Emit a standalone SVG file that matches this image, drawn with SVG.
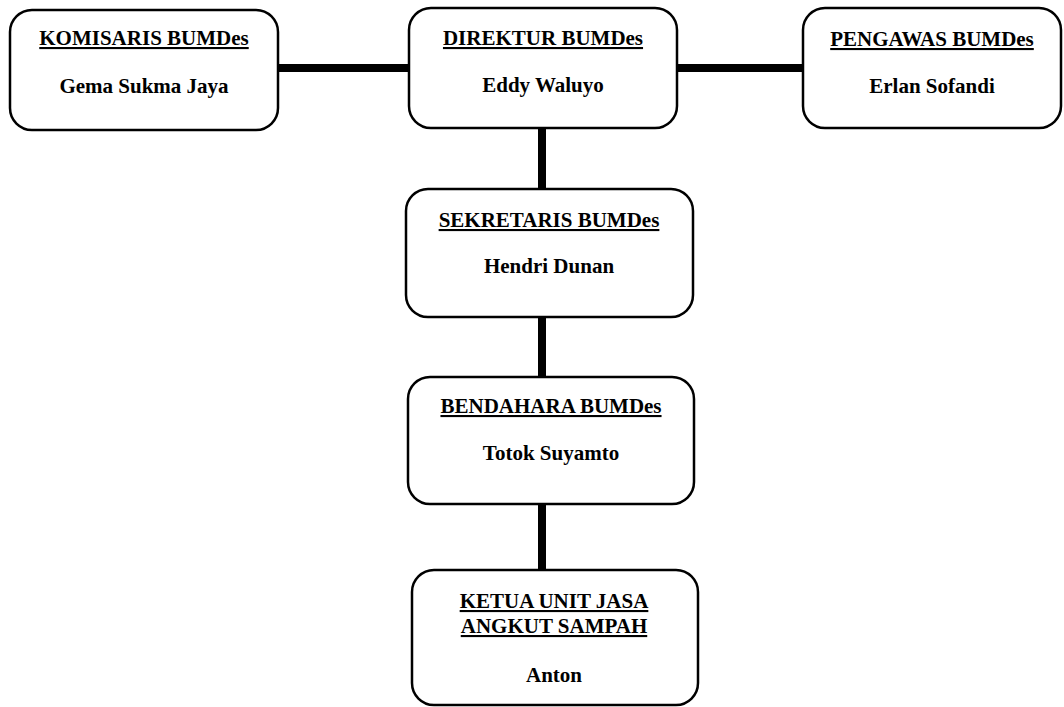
<svg xmlns="http://www.w3.org/2000/svg" width="1064" height="707" viewBox="0 0 1064 707">
<style>
.box{fill:#fff;stroke:#000;stroke-width:2.5}
.t{font-family:"Liberation Serif","Times New Roman",serif;font-weight:bold;font-size:21px;text-anchor:middle;fill:#000}
.u{text-decoration:underline}
.c{stroke:#000;stroke-width:8;fill:none}
</style>
<rect width="1064" height="707" fill="#fff"/>
<g id="connectors">
<line class="c" x1="278" y1="68" x2="410" y2="68"/>
<line class="c" x1="677" y1="68" x2="804" y2="68"/>
<line class="c" x1="542" y1="128" x2="542" y2="190"/>
<line class="c" x1="542" y1="317" x2="542" y2="378"/>
<line class="c" x1="542" y1="504" x2="542" y2="571"/>
</g>
<g id="komisaris">
<rect class="box" x="10" y="10" width="268" height="120" rx="22"/>
<text class="t u" x="144" y="45">KOMISARIS BUMDes</text>
<text class="t" x="144" y="93">Gema Sukma Jaya</text>
</g>
<g id="direktur">
<rect class="box" x="409" y="8" width="268" height="120" rx="22"/>
<text class="t u" x="543" y="45">DIREKTUR BUMDes</text>
<text class="t" x="543" y="92">Eddy Waluyo</text>
</g>
<g id="pengawas">
<rect class="box" x="803" y="8" width="258" height="120" rx="22"/>
<text class="t u" x="932" y="46">PENGAWAS BUMDes</text>
<text class="t" x="932" y="93">Erlan Sofandi</text>
</g>
<g id="sekretaris">
<rect class="box" x="406" y="189" width="287" height="128" rx="22"/>
<text class="t u" x="549" y="227">SEKRETARIS BUMDes</text>
<text class="t" x="549" y="273">Hendri Dunan</text>
</g>
<g id="bendahara">
<rect class="box" x="408" y="377" width="286" height="127" rx="22"/>
<text class="t u" x="551" y="413">BENDAHARA BUMDes</text>
<text class="t" x="551" y="460">Totok Suyamto</text>
</g>
<g id="ketua">
<rect class="box" x="412" y="570" width="286" height="135" rx="22"/>
<text class="t u" x="554" y="608">KETUA UNIT JASA</text>
<text class="t u" x="554" y="633">ANGKUT SAMPAH</text>
<text class="t" x="554" y="682">Anton</text>
</g>
</svg>
